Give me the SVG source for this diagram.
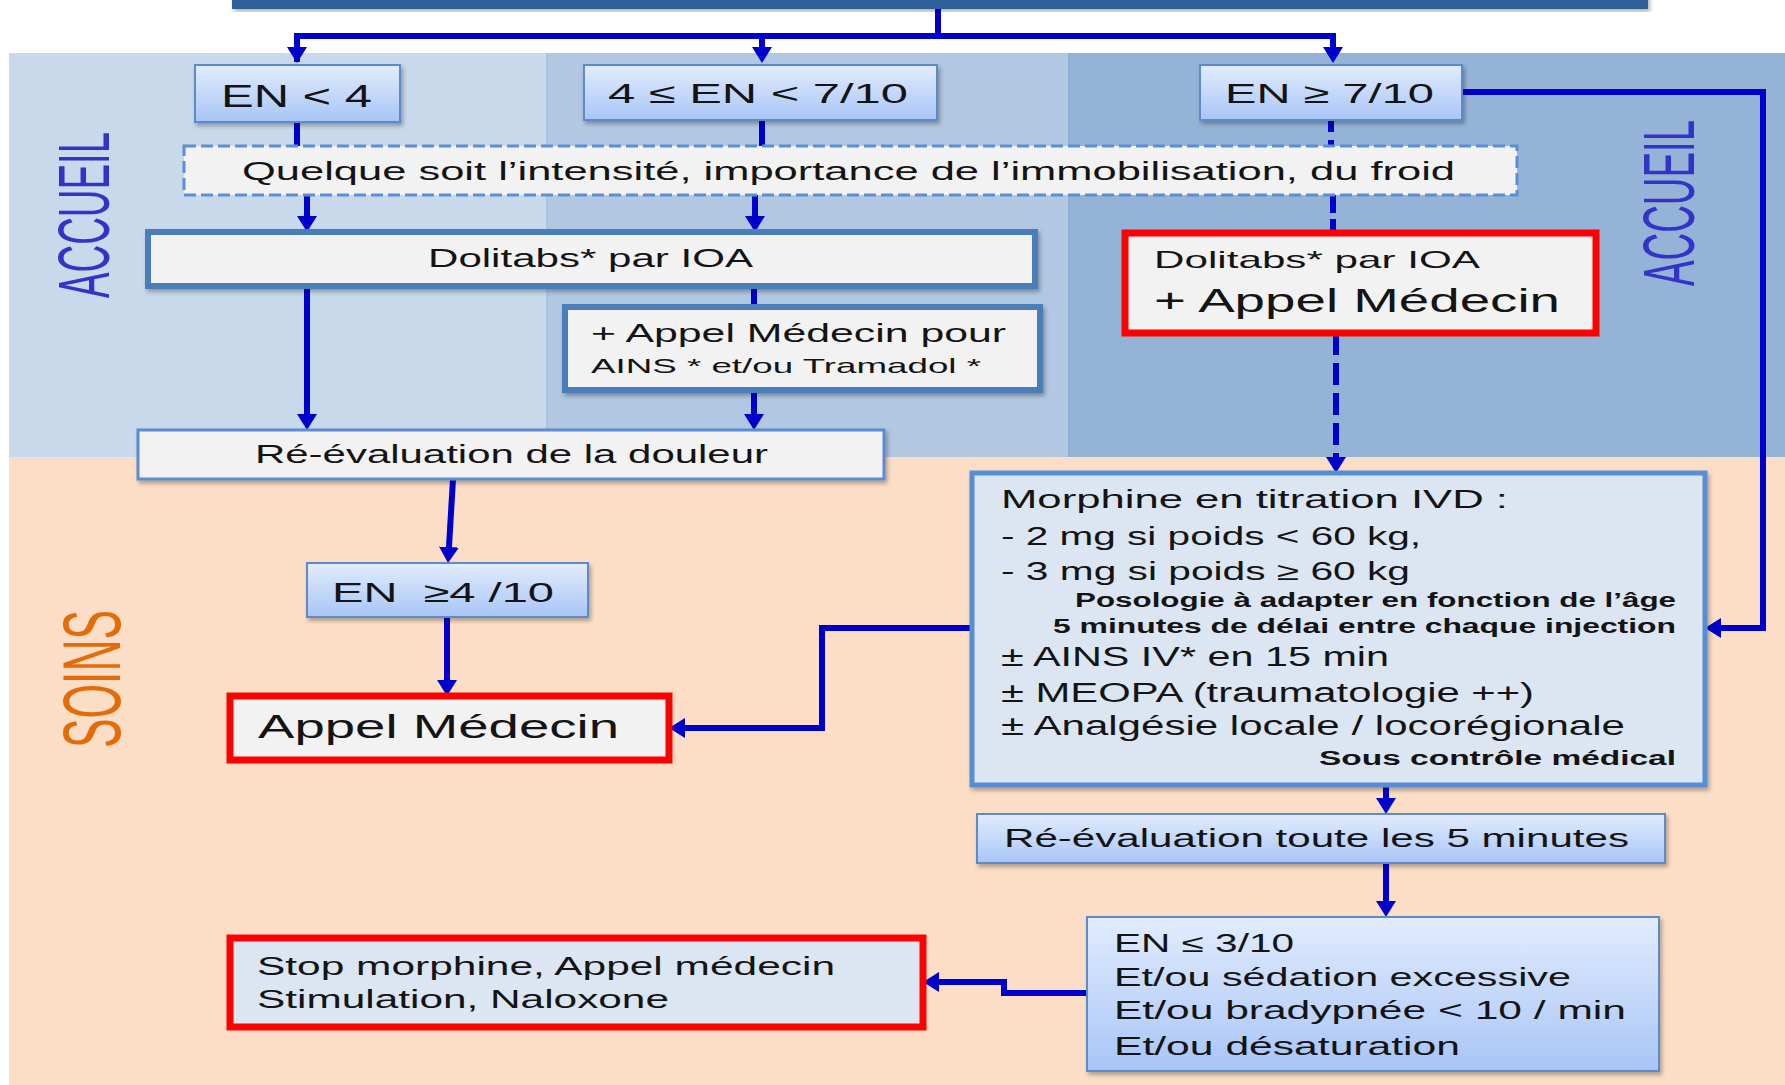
<svg xmlns="http://www.w3.org/2000/svg" width="1785" height="1085" viewBox="0 0 1785 1085">
<style>
text{font-family:"Liberation Sans",Arial,sans-serif;fill:#141414}
.t25{font-size:25px}
.t28{font-size:28px}
.sm{font-size:20px;font-weight:bold}
.gbox{fill:url(#g);stroke:#5C8BC8;stroke-width:2}
.wbox{fill:#F2F2F2;stroke:#4A7EBB;stroke-width:6}
.red{stroke:#FF0000;stroke-width:7}
.c{fill:none;stroke:#0000CC;stroke-width:6}
.ca{fill:none;stroke:#0000CC;stroke-width:6;marker-end:url(#ah)}
.dash{stroke-dasharray:22 8}
.sh{filter:url(#sh)}
</style>
<defs>
<linearGradient id="g" x1="0" y1="0" x2="0" y2="1">
<stop offset="0" stop-color="#E2ECFD"/>
<stop offset="1" stop-color="#A8C5F6"/>
</linearGradient>
<filter id="sh" x="-5%" y="-10%" width="110%" height="130%">
<feDropShadow dx="2" dy="3" stdDeviation="2" flood-color="#000" flood-opacity="0.3"/>
</filter>
<marker id="ah" markerUnits="userSpaceOnUse" viewBox="0 0 16 20" markerWidth="16" markerHeight="20" refX="10" refY="10" orient="auto">
<path d="M0,0 L16,10 L0,20 z" fill="#0000CC"/>
</marker>
</defs>

<g id="background">
<rect x="0" y="0" width="1785" height="1085" fill="#FFFFFF"/>
<rect x="9" y="53" width="538" height="404" fill="#C8D9EC"/>
<rect x="547" y="53" width="522" height="404" fill="#B2C7E1"/>
<rect x="1069" y="53" width="716" height="404" fill="#95B3D7"/>
<line x1="547" y1="53" x2="547" y2="457" stroke="#A6BEDC" stroke-width="1.5"/>
<line x1="1069" y1="53" x2="1069" y2="457" stroke="#88A8D0" stroke-width="1.5"/>
<rect x="9" y="457" width="1776" height="628" fill="#FCDEC6"/>
<rect class="sh" x="232" y="-6" width="1416" height="15" fill="#2F5E97"/>
<text x="109" y="215" transform="rotate(-90 109 215)" text-anchor="middle" font-size="72" textLength="166" lengthAdjust="spacingAndGlyphs" style="fill:#3333C8">ACCUEIL</text>
<text x="1694" y="203" transform="rotate(-90 1694 203)" text-anchor="middle" font-size="72" textLength="166" lengthAdjust="spacingAndGlyphs" style="fill:#3333C8">ACCUEIL</text>
<text x="120" y="679" transform="rotate(-90 120 679)" text-anchor="middle" font-size="82" textLength="138" lengthAdjust="spacingAndGlyphs" style="fill:#E36C0A">SOINS</text>
</g>

<g id="connectors">
<path class="c" d="M938,9 V36"/>
<path class="ca" d="M297,62 V36 H1333 V57"/>
<path class="ca" d="M762,36 V57"/>
<path class="ca" d="M297,36 V57"/>
<path class="c" d="M297,122 V146"/>
<path class="c" d="M762,120 V146"/>
<path class="c dash" d="M1331,120 V146" style="stroke-dasharray:12 8"/>
<path class="ca" d="M307,195 V226"/>
<path class="ca" d="M755,195 V226"/>
<path class="c dash" d="M1333,195 V233" style="stroke-dasharray:18 6"/>
<path class="ca" d="M307,286 V424"/>
<path class="c" d="M754,286 V307"/>
<path class="ca" d="M754,390 V424"/>
<path class="ca dash" d="M1336,333 V467"/>
<path class="ca" d="M1462,92 H1763 V628 H1711"/>
<path class="ca" d="M453,479 L448.4,557"/>
<path class="ca" d="M447,617 V690"/>
<path class="ca" d="M972,628 H822 V728 H675"/>
<path class="ca" d="M1386,785 V808"/>
<path class="ca" d="M1386,863 V911"/>
<path class="ca" d="M1087,993 H1004 V982 H929"/>
</g>

<g id="en-lt-4">
<rect class="gbox sh" x="195" y="65" width="205" height="57"/>
<text x="221" y="107" font-size="32" textLength="151" lengthAdjust="spacingAndGlyphs">EN &lt; 4</text>
</g>
<g id="en-4-7">
<rect class="gbox sh" x="584" y="65" width="353" height="55"/>
<text class="t28" x="608" y="103" textLength="300" lengthAdjust="spacingAndGlyphs">4 ≤ EN &lt; 7/10</text>
</g>
<g id="en-ge-7">
<rect class="gbox sh" x="1200" y="65" width="262" height="55"/>
<text class="t28" x="1225" y="103" textLength="209" lengthAdjust="spacingAndGlyphs">EN ≥ 7/10</text>
</g>
<g id="quelque">
<rect x="184" y="146" width="1333" height="49" fill="#F2F2F2" stroke="#5B8FD5" stroke-width="3" stroke-dasharray="12 5"/>
<text class="t25" x="242" y="180" textLength="1213" lengthAdjust="spacingAndGlyphs">Quelque soit l’intensité, importance de l’immobilisation, du froid</text>
</g>
<g id="dolitabs">
<rect class="wbox sh" x="148" y="232" width="887" height="54"/>
<text class="t25" x="428" y="267" textLength="325" lengthAdjust="spacingAndGlyphs">Dolitabs* par IOA</text>
</g>
<g id="dolitabs-appel">
<rect class="red" x="1125" y="233" width="471" height="100" fill="#F2F2F2"/>
<text x="1154" y="268" font-size="24" textLength="326" lengthAdjust="spacingAndGlyphs">Dolitabs* par IOA</text>
<text x="1154" y="312" font-size="33" textLength="406" lengthAdjust="spacingAndGlyphs">+ Appel Médecin</text>
</g>
<g id="appel-ains">
<rect class="wbox sh" x="565" y="307" width="475" height="83"/>
<text class="t25" x="591" y="342" textLength="415" lengthAdjust="spacingAndGlyphs">+ Appel Médecin pour</text>
<text x="591" y="373" font-size="21" textLength="390" lengthAdjust="spacingAndGlyphs">AINS * et/ou Tramadol *</text>
</g>
<g id="reeval-douleur">
<rect class="sh" x="138" y="430" width="746" height="49" fill="#F2F2F2" stroke="#5B8BD0" stroke-width="3"/>
<text class="t25" x="255" y="463" textLength="513" lengthAdjust="spacingAndGlyphs">Ré-évaluation de la douleur</text>
</g>
<g id="en-ge-4">
<rect class="gbox sh" x="307" y="563" width="281" height="54"/>
<text class="t28" x="332" y="602" textLength="222" lengthAdjust="spacingAndGlyphs" style="white-space:pre">EN  ≥4 /10</text>
</g>
<g id="appel-medecin">
<rect class="red" x="230" y="696" width="439" height="64" fill="#F2F2F2"/>
<text x="258" y="738" font-size="33" textLength="361" lengthAdjust="spacingAndGlyphs">Appel Médecin</text>
</g>
<g id="morphine">
<rect class="sh" x="972" y="473" width="733" height="312" fill="#DCE6F2" stroke="#558ED5" stroke-width="5"/>
<text class="t25" x="1001" y="508" textLength="507" lengthAdjust="spacingAndGlyphs">Morphine en titration IVD :</text>
<text class="t25" x="1001" y="545" textLength="420" lengthAdjust="spacingAndGlyphs">- 2 mg si poids &lt; 60 kg,</text>
<text class="t25" x="1001" y="580" textLength="409" lengthAdjust="spacingAndGlyphs">- 3 mg si poids ≥ 60 kg</text>
<text class="sm" x="1676" y="607" text-anchor="end" textLength="601" lengthAdjust="spacingAndGlyphs">Posologie à adapter en fonction de l’âge</text>
<text class="sm" x="1676" y="633" text-anchor="end" textLength="623" lengthAdjust="spacingAndGlyphs">5 minutes de délai entre chaque injection</text>
<text x="1001" y="666" font-size="27" textLength="388" lengthAdjust="spacingAndGlyphs">± AINS IV* en 15 min</text>
<text x="1001" y="702" font-size="27" textLength="533" lengthAdjust="spacingAndGlyphs">± MEOPA (traumatologie ++)</text>
<text x="1001" y="735" font-size="27" textLength="624" lengthAdjust="spacingAndGlyphs">± Analgésie locale / locorégionale</text>
<text class="sm" x="1676" y="765" text-anchor="end" textLength="357" lengthAdjust="spacingAndGlyphs">Sous contrôle médical</text>
</g>
<g id="reeval-5min">
<rect class="gbox sh" x="977" y="814" width="688" height="49"/>
<text x="1004" y="847" font-size="26" textLength="625" lengthAdjust="spacingAndGlyphs">Ré-évaluation toute les 5 minutes</text>
</g>
<g id="en-le-3">
<rect class="gbox sh" x="1087" y="917" width="572" height="154"/>
<text class="t25" x="1114" y="952" textLength="180" lengthAdjust="spacingAndGlyphs">EN ≤ 3/10</text>
<text class="t25" x="1114" y="986" textLength="457" lengthAdjust="spacingAndGlyphs">Et/ou sédation excessive</text>
<text class="t25" x="1114" y="1019" textLength="512" lengthAdjust="spacingAndGlyphs">Et/ou bradypnée &lt; 10 / min</text>
<text class="t25" x="1114" y="1055" textLength="346" lengthAdjust="spacingAndGlyphs">Et/ou désaturation</text>
</g>
<g id="stop-morphine">
<rect class="red" x="230" y="938" width="693" height="89" fill="#DCE6F2"/>
<text class="t25" x="257" y="975" textLength="578" lengthAdjust="spacingAndGlyphs">Stop morphine, Appel médecin</text>
<text class="t25" x="257" y="1008" textLength="412" lengthAdjust="spacingAndGlyphs">Stimulation, Naloxone</text>
</g>
</svg>
